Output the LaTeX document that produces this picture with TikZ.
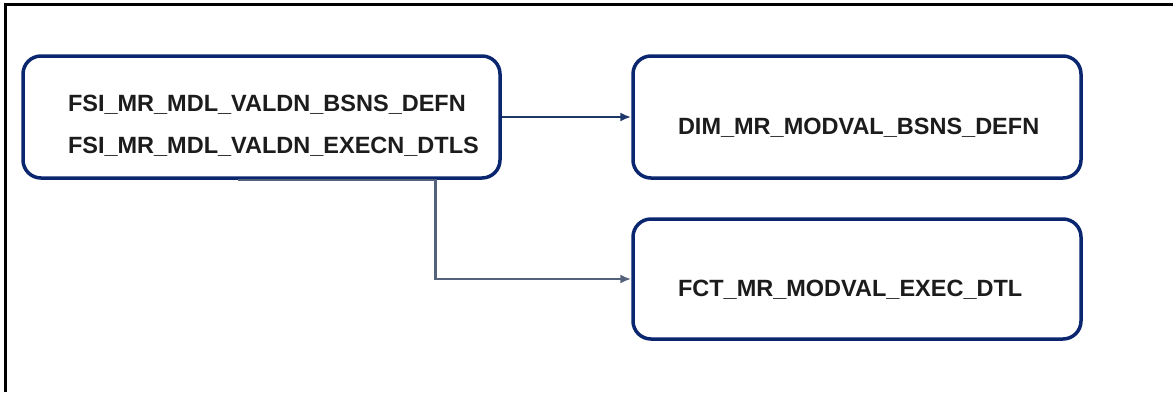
\documentclass[tikz,border=0pt]{standalone}
\usepackage{fontspec}
\setmainfont{Liberation Sans}
\usetikzlibrary{arrows.meta,positioning}
\definecolor{MrNavy}{RGB}{10,38,110}
\definecolor{MrLink}{RGB}{30,55,105}
\definecolor{MrSlate}{RGB}{84,98,124}
\definecolor{MrText}{RGB}{28,28,28}
\tikzset{
  mr/box/.style={
    draw=MrNavy,
    line width=3.5pt,
    rounded corners=18pt,
    fill=white,
    align=left,
    text=MrText,
    minimum height=122pt,
    inner xsep=45pt,
    font=\fontsize{23.5}{42}\selectfont\bfseries
  },
  mr/onebox/.style={
    mr/box,
    text height=34pt,
    text depth=0pt
  },
  mr/arrow/.style={-{Latex[length=11pt,width=9pt]}, line width=2.5pt, draw=MrLink},
  mr/grayarrow/.style={-{Latex[length=11pt,width=9pt]}, line width=2.5pt, draw=MrSlate},
  mr/frame/.style={line width=3pt, draw=black}
}
\begin{document}
\begin{tikzpicture}[x=1pt,y=-1pt]
  \useasboundingbox (0,0) rectangle (1173,392);
  \draw[mr/frame] (5,392) -- (5,4) -- (1173,4);
  \node[mr/box,text width=387pt] (fsi) at (261.5,117) {\rule{0pt}{33pt}FSI\_MR\_MDL\_VALDN\_BSNS\_DEFN\\FSI\_MR\_MDL\_VALDN\_EXECN\_DTLS};
  \node[mr/onebox,text width=358pt] (dim) at (857,117) {DIM\_MR\_MODVAL\_BSNS\_DEFN};
  \node[mr/onebox,text width=358pt,minimum height=120pt] (fct) at (857,279) {FCT\_MR\_MODVAL\_EXEC\_DTL};
  \draw[mr/arrow] (fsi.east) -- (dim.west);
  \draw[mr/grayarrow] ([xshift=-24pt]fsi.south) -- ([xshift=174pt]fsi.south) |- (fct.west);
\end{tikzpicture}
\end{document}
